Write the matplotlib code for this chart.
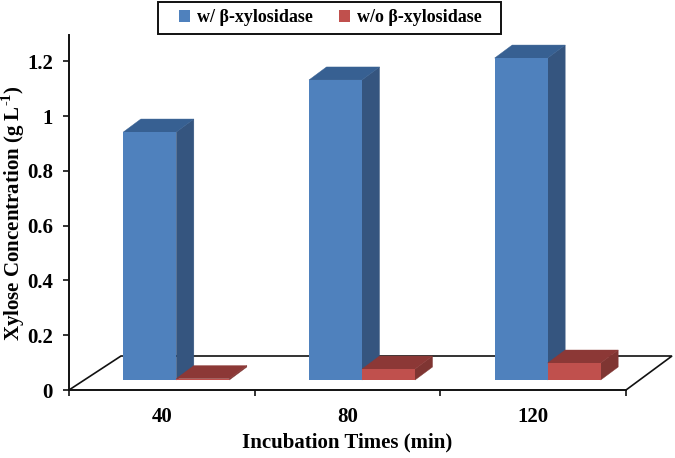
# -*- coding: utf-8 -*-
import matplotlib
matplotlib.use('Agg')
import matplotlib.pyplot as plt
from matplotlib.patches import Patch, Polygon, Rectangle

plt.rcParams['font.family'] = ['Liberation Serif', 'DejaVu Serif']
plt.rcParams['font.weight'] = 'bold'
plt.rcParams['mathtext.fontset'] = 'custom'
plt.rcParams['mathtext.bf'] = 'Liberation Serif:bold'
plt.rcParams['mathtext.rm'] = 'Liberation Serif:bold'

# data
times = ['40', '80', '120']
with_enzyme = [0.905, 1.095, 1.175]
without_enzyme = [0.005, 0.04, 0.062]
y_ticks = [0, 0.2, 0.4, 0.6, 0.8, 1, 1.2]
y_labels = ['0', '0.2', '0.4', '0.6', '0.8', '1', '1.2']

W, H = 675, 458
fig = plt.figure(figsize=(W / 100, H / 100), dpi=100)
ax = fig.add_axes([69 / W, 1 - 390 / H, 557 / W, 355 / H])
ax.set_xlim(-0.5, 2.5)
ax.set_ylim(0, 355 / 274)

# fake 3d offsets in data units
dx = 17.5 / 185.67
dy = 13 / 274
lift = 10 / 274
bar_w = 53 / 185.67
shift = 14.5 / 185.67

# floor of the 3d box
floor_x = [-0.5, -0.5 + 52 / 185.67, 2.5 + 46 / 185.67, 2.5]
floor_y = [0, 34 / 274, 34 / 274, 0]
ax.plot(floor_x, floor_y, color='#111111', lw=1.2, clip_on=False, zorder=1,
        solid_joinstyle='miter')


def bars_3d(xs, vals, front, top, side, z):
    rects = ax.bar(xs, vals, bar_w, bottom=lift, color=front, align='edge',
                   zorder=z + 2, clip_on=False)
    for r in rects:
        x0, x1 = r.get_x(), r.get_x() + r.get_width()
        y0, y1 = r.get_y(), r.get_y() + r.get_height()
        ax.add_patch(Polygon([(x1, y0), (x1 + dx, y0 + dy), (x1 + dx, y1 + dy), (x1, y1)],
                             facecolor=side, edgecolor=side, lw=0.3, zorder=z, clip_on=False))
        ax.add_patch(Polygon([(x0, y1), (x0 + dx, y1 + dy), (x1 + dx, y1 + dy), (x1, y1)],
                             facecolor=top, edgecolor=top, lw=0.3, zorder=z + 1, clip_on=False))


pos = [0, 1, 2]
bars_3d([p + shift - bar_w for p in pos], with_enzyme, '#4F81BD', '#376092', '#35557F', 3)
bars_3d([p + shift for p in pos], without_enzyme, '#C0504D', '#8C3836', '#7F3532', 7)

# axes
for s in ['top', 'right']:
    ax.spines[s].set_visible(False)
for s in ['left', 'bottom']:
    ax.spines[s].set_linewidth(1.4)
    ax.spines[s].set_color('#111111')
    ax.spines[s].set_zorder(2)
ax.set_yticks(y_ticks)
ax.set_yticklabels(y_labels, fontsize=15, fontweight='bold')
ax.set_xticks([-0.5, 0.5, 1.5, 2.5])
ax.set_xticklabels([])
ax.set_xticks(pos, minor=True)
ax.set_xticklabels(times, minor=True, fontsize=15, fontweight='bold')
ax.tick_params(axis='x', which='minor', length=0, pad=12)
ax.tick_params(axis='both', which='major', length=4.5, width=1.2, color='#111111')
ax.tick_params(axis='y', pad=7)

fig.text(347 / W, 1 - 442 / H, 'Incubation Times (min)', fontsize=15, fontweight='bold',
         ha='center', va='center')
fig.text(13 / W, 1 - 213 / H, r'Xylose Concentration (g L$^{\text{-1}}$)', fontsize=15,
         fontweight='bold', rotation=90, ha='center', va='center')

# legend frame drawn apart, it is much wider than the entries need
fig.add_artist(Rectangle((158 / W, 1 - 34 / H), 343 / W, 32 / H, transform=fig.transFigure,
                         facecolor='white', edgecolor='#111111', lw=1.4))
handles = [Patch(facecolor='#4F81BD', label='w/ β-xylosidase'),
           Patch(facecolor='#C0504D', label='w/o β-xylosidase')]
fig.legend(handles=handles, ncol=2, loc='center', bbox_to_anchor=(330.5 / W, 1 - 18 / H),
           fontsize=13, frameon=False, handlelength=0.6, handleheight=0.6,
           handletextpad=0.4, columnspacing=1.45, borderpad=0, borderaxespad=0)

fig.savefig('out.png', dpi=100, facecolor='white')
